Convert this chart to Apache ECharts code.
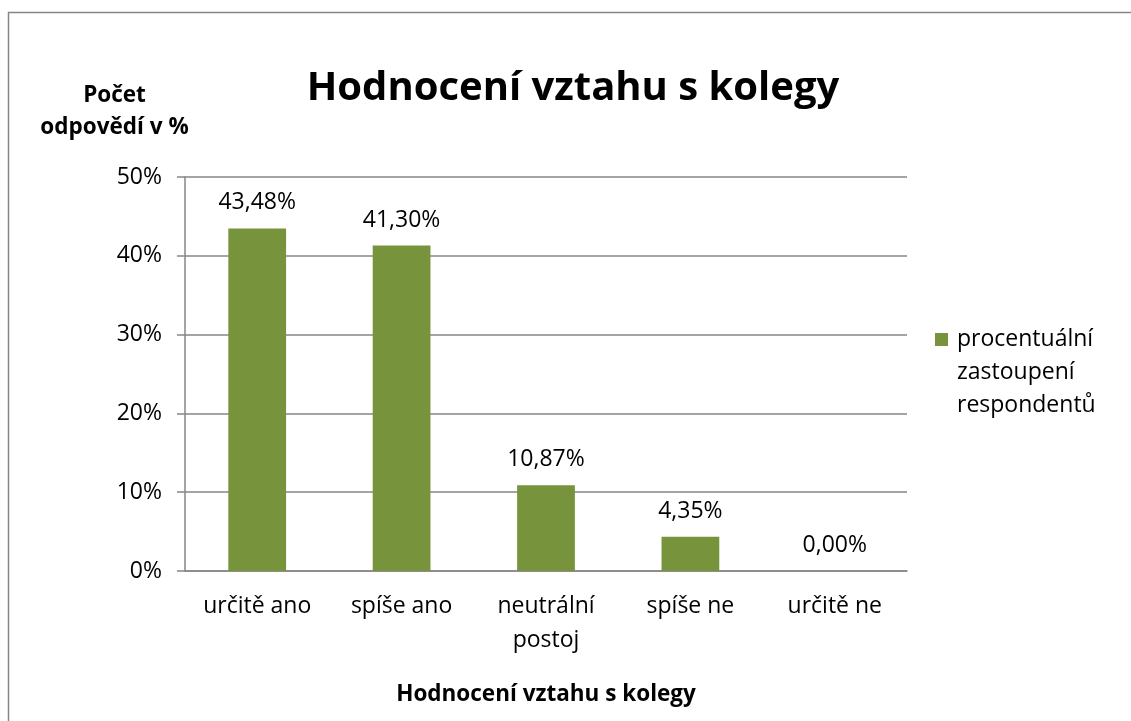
<!DOCTYPE html>
<html>
<head>
<meta charset="utf-8">
<script src="https://cdn.jsdelivr.net/npm/echarts@6/dist/echarts.min.js"></script>
<style>
  html, body { margin: 0; padding: 0; background: #fff; }
  #chart { width: 1131px; height: 721px; }
</style>
</head>
<body>
<div id="chart"></div>
<script>
const categories = ["určitě ano", "spíše ano", "neutrální\npostoj", "spíše ne", "určitě ne"];
const shares = [43.48, 41.30, 10.87, 4.35, 0.00];
const seriesName = "procentuální\nzastoupení\nrespondentů";
const yTicks = { min: 0, max: 50, step: 10 };

const font = "'Open Sans', sans-serif";
const gray = "#868686";

const chart = echarts.init(document.getElementById("chart"));

chart.setOption({
  animation: false,
  textStyle: { fontFamily: font, color: "#000" },
  graphic: [{
    type: "rect",
    shape: { x: 8.5, y: 12.5, width: 1140, height: 740 },
    style: { fill: "none", stroke: gray, lineWidth: 1.5 }
  }],
  title: {
    text: "Hodnocení vztahu s kolegy",
    left: 568,
    textAlign: "center",
    top: 64,
    textStyle: { fontFamily: font, fontSize: 40, fontWeight: "bold", color: "#000" }
  },
  legend: {
    data: [seriesName],
    left: 935,
    top: 323,
    padding: 0,
    orient: "vertical",
    // square sits on the first line of the three-line name
    icon: "path://M0,10L13,10L13,23L0,23Z M0,0L17,0 M0,99L17,99",
    itemWidth: 17,
    itemHeight: 99,
    textStyle: { fontFamily: font, fontSize: 23, color: "#000", lineHeight: 33 }
  },
  grid: { left: 185, right: 224, top: 177, bottom: 150 },
  xAxis: {
    type: "category",
    data: categories,
    name: "Hodnocení vztahu s kolegy",
    nameLocation: "middle",
    nameGap: 112,
    nameTextStyle: { fontFamily: font, fontSize: 22.5, fontWeight: "bold", color: "#000" },
    axisLine: { lineStyle: { color: gray, width: 1.5 } },
    axisTick: { length: 8, lineStyle: { color: gray, width: 1.5 } },
    axisLabel: { fontFamily: font, fontSize: 23, color: "#000", margin: 18, lineHeight: 34 }
  },
  yAxis: {
    type: "value",
    min: yTicks.min,
    max: yTicks.max,
    interval: yTicks.step,
    name: "Počet\nodpovědí v %",
    nameLocation: "end",
    nameGap: 0,
    nameTextStyle: {
      fontFamily: font, fontSize: 22.5, fontWeight: "bold", color: "#000",
      lineHeight: 32, align: "center", padding: [0, 0, 22, -141]
    },
    axisLine: { show: true, lineStyle: { color: gray, width: 1.5 } },
    axisTick: { show: true, length: 8, lineStyle: { color: gray, width: 1.5 } },
    axisLabel: { fontFamily: font, fontSize: 23, color: "#000", margin: 23, formatter: "{value}%" },
    splitLine: { lineStyle: { color: gray, width: 1.5 } }
  },
  series: [{
    name: seriesName,
    type: "bar",
    data: shares,
    barWidth: "40%",
    itemStyle: { color: "#77933C" },
    label: {
      show: true,
      position: "top",
      distance: 14,
      fontFamily: font,
      fontSize: 23,
      color: "#000",
      formatter: p => p.value.toFixed(2).replace(".", ",") + "%"
    }
  }]
});
</script>
</body>
</html>
